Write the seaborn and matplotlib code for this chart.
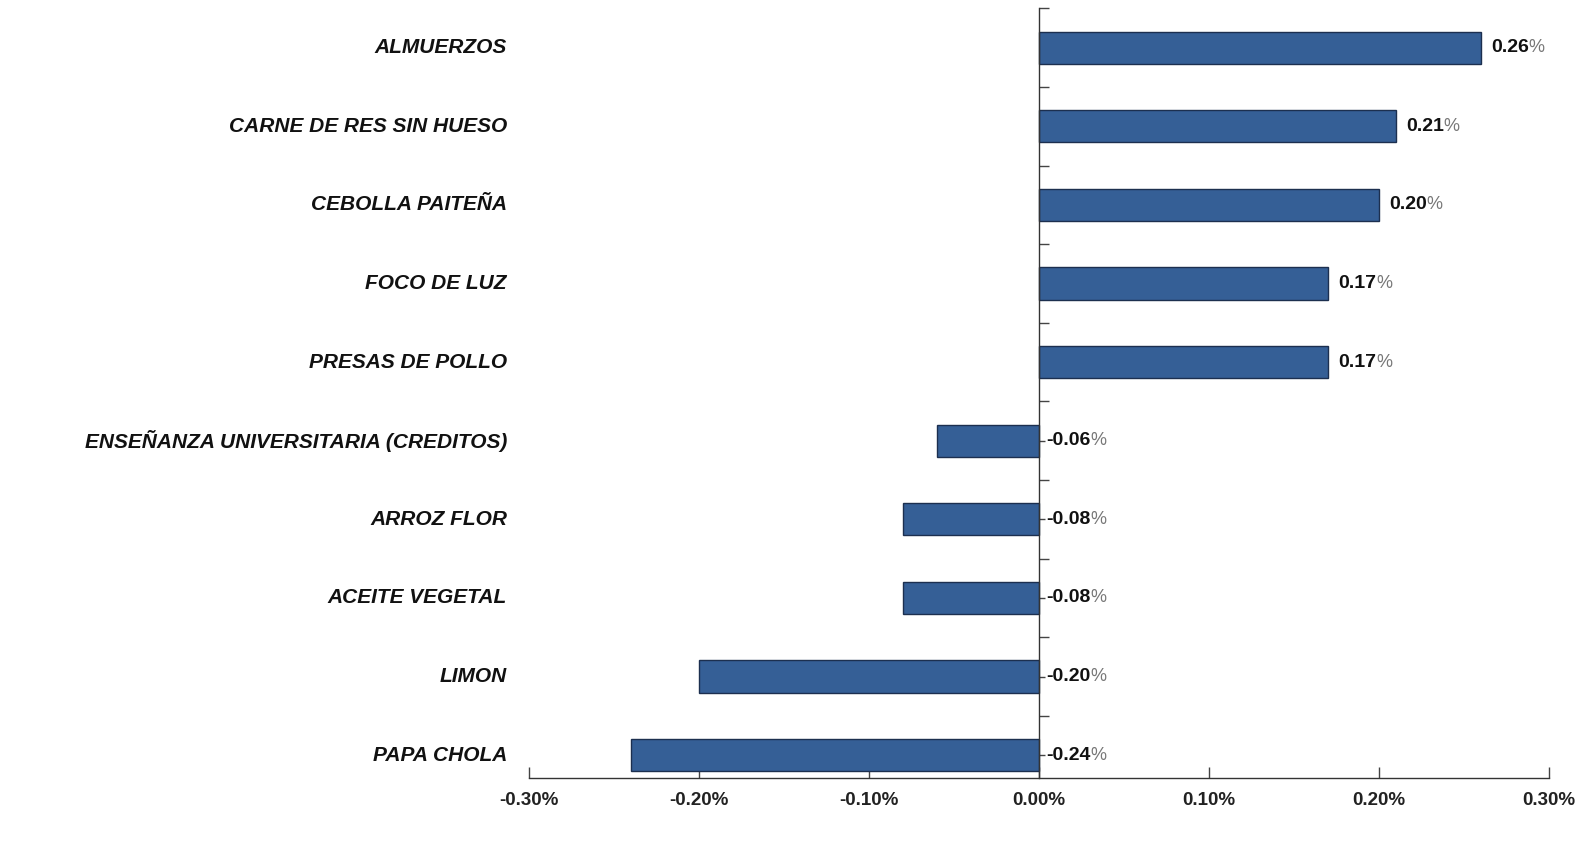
import matplotlib
matplotlib.use("Agg")
import matplotlib.pyplot as plt
import matplotlib.font_manager as fm
import pandas as pd
import seaborn as sns

categories = [
    "ALMUERZOS",
    "CARNE DE RES SIN HUESO",
    "CEBOLLA PAITEÑA",
    "FOCO DE LUZ",
    "PRESAS DE POLLO",
    "ENSEÑANZA UNIVERSITARIA (CREDITOS)",
    "ARROZ FLOR",
    "ACEITE VEGETAL",
    "LIMON",
    "PAPA CHOLA",
]
values = [0.26, 0.21, 0.20, 0.17, 0.17, -0.06, -0.08, -0.08, -0.20, -0.24]
xticks = [-0.30, -0.20, -0.10, 0.00, 0.10, 0.20, 0.30]

df = pd.DataFrame({"item": categories, "value": values})

sns.set_style("white")
plt.rcParams["font.family"] = ["Liberation Sans", "DejaVu Sans"]

names = {f.name for f in fm.fontManager.ttflist}
narrow = "Liberation Sans Narrow" if "Liberation Sans Narrow" in names else "Liberation Sans"

fig = plt.figure(figsize=(15.85, 8.42), dpi=100)
ax = fig.add_axes([0.334, 0.076, 0.643, 0.914])

sns.barplot(data=df, y="item", x="value", orient="h", color="#355f96",
            width=0.41, edgecolor="#1c2f4f", linewidth=1.0, saturation=1, ax=ax)

ax.set_xlim(-0.30, 0.30)
ax.set_ylim(9.29, -0.49)
ax.set_xlabel("")
ax.set_ylabel("")

# category axis sits on zero
ax.spines["left"].set_position(("data", 0))
ax.spines["top"].set_visible(False)
ax.spines["right"].set_visible(False)
for s in ("left", "bottom"):
    ax.spines[s].set_color("#333333")
    ax.spines[s].set_linewidth(1.0)

ax.set_yticks(range(len(categories)))
ax.set_yticks([i + 0.5 for i in range(-1, len(categories) - 1)], minor=True)
ax.tick_params(axis="y", which="major", left=True, direction="in", length=4,
               width=1, labelleft=False, color="#444444")
ax.tick_params(axis="y", which="minor", left=True, direction="in", length=7,
               width=1, color="#444444")

ax.set_xticks(xticks)
ax.set_xticklabels([f"{t:.2f}%" for t in xticks])
ax.tick_params(axis="x", bottom=True, direction="in", length=8, width=1,
               color="#444444", pad=10)
for lab in ax.get_xticklabels():
    lab.set_fontfamily(narrow)
    lab.set_fontweight("bold")
    lab.set_fontsize(13.5)
    lab.set_color("#222222")

# category labels on the left of the plot area
trans = ax.get_yaxis_transform()
for i, name in enumerate(categories):
    ax.text(-0.022, i, name, transform=trans, ha="right", va="center",
            fontsize=15, fontweight="bold", fontstyle="italic", color="#111111")

# value labels
for i, v in enumerate(values):
    x = v + 0.006 if v > 0 else 0.004
    t = ax.annotate(f"{v:.2f}", xy=(x, i), ha="left", va="center",
                    fontsize=14, fontweight="bold", color="#111111")
    ax.annotate("%", xy=(1, 0.5), xycoords=t, ha="left", va="center",
                fontsize=13, color="#777777")

fig.savefig("out.png", dpi=100)
